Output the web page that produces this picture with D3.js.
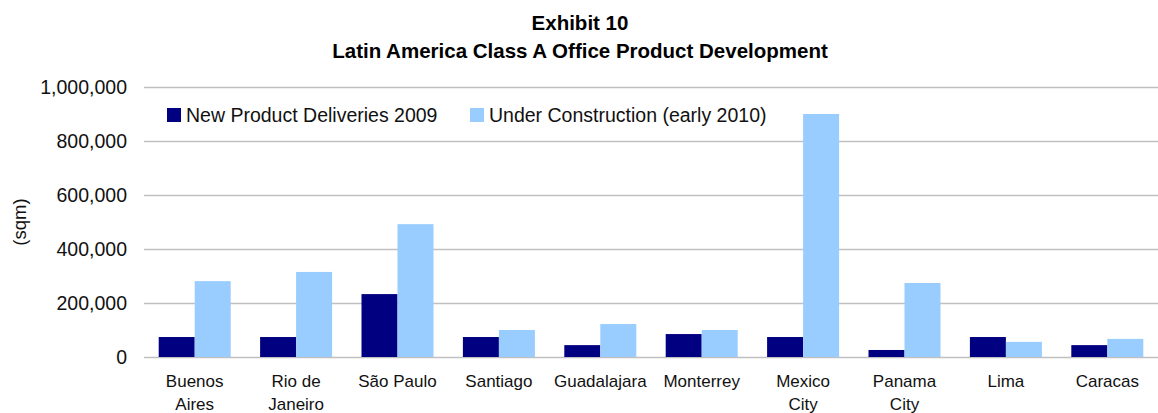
<!DOCTYPE html>
<html>
<head>
<meta charset="utf-8">
<script src="https://cdn.jsdelivr.net/npm/d3@7/dist/d3.min.js"></script>
<style>
  body { margin: 0; background: #fff; }
  svg { display: block; font-family: "Liberation Sans", Arial, sans-serif; }
</style>
</head>
<body>
<svg id="chart" width="1158" height="413"></svg>
<script>
// données (sqm)
const cities = [["Buenos", "Aires"], ["Rio de", "Janeiro"], ["São Paulo"], ["Santiago"], ["Guadalajara"],
  ["Monterrey"], ["Mexico", "City"], ["Panama", "City"], ["Lima"], ["Caracas"]];
const deliveries2009 = [74000, 74000, 233000, 74000, 44000, 85000, 74000, 26000, 74000, 44000];
const underConstruction = [281000, 315000, 492000, 100000, 122000, 100000, 900000, 274000, 56000, 67000];
const seriesNames = ["New Product Deliveries 2009", "Under Construction (early 2010)"];
const seriesColors = ["#000080", "#99CCFF"];
const yTicks = [0, 200000, 400000, 600000, 800000, 1000000];

const svg = d3.select("#chart");
const margin = { left: 144, right: 0, top: 87, bottom: 56 };
const width = 1158 - margin.left - margin.right;
const height = 413 - margin.top - margin.bottom;

const g = svg.append("g").attr("transform", `translate(${margin.left},${margin.top})`);

const x = d3.scaleBand().domain(d3.range(cities.length)).range([0, width]).paddingInner(0.29).paddingOuter(0.145);
const xSub = d3.scaleBand().domain([0, 1]).range([0, x.bandwidth()]);
const y = d3.scaleLinear().domain([0, 1000000]).range([height, 0]);

// titre
const title = svg.append("text").attr("text-anchor", "middle").attr("font-weight", "bold").attr("font-size", 20.5).attr("fill", "#000");
title.append("tspan").attr("x", 580).attr("y", 30).text("Exhibit 10");
title.append("tspan").attr("x", 580).attr("y", 58).text("Latin America Class A Office Product Development");

// grille
g.selectAll(".grid").data(yTicks).enter().append("line")
  .attr("x1", 0).attr("x2", width)
  .attr("y1", d => Math.round(y(d)) + 0.5).attr("y2", d => Math.round(y(d)) + 0.5)
  .attr("stroke", "#c0c0c0").attr("stroke-width", 1.6);

// axe Y
const fmt = d3.format(",");
g.append("g")
  .call(d3.axisLeft(y).tickValues(yTicks).tickFormat(fmt).tickSize(0).tickPadding(17))
  .call(a => a.select(".domain").remove())
  .selectAll("text").attr("font-size", 19.5).attr("fill", "#111").attr("font-family", "Liberation Sans, Arial, sans-serif");

svg.append("text")
  .attr("transform", `translate(26,${margin.top + height / 2}) rotate(-90)`)
  .attr("text-anchor", "middle").attr("font-size", 18.5).attr("fill", "#111").text("(sqm)");

// barres
const series = [deliveries2009, underConstruction];
series.forEach((vals, s) => {
  g.selectAll(".bar" + s).data(vals).enter().append("rect")
    .attr("x", (d, i) => x(i) + xSub(s))
    .attr("y", d => y(d))
    .attr("width", xSub.bandwidth())
    .attr("height", d => height - y(d))
    .attr("fill", seriesColors[s]);
});

// étiquettes X
const labels = g.selectAll(".xl").data(cities).enter().append("text")
  .attr("text-anchor", "middle").attr("font-size", 17).attr("fill", "#111")
  .attr("transform", (d, i) => `translate(${x(i) + x.bandwidth() / 2},${height + 30})`);
labels.selectAll("tspan").data(d => d).enter().append("tspan")
  .attr("x", 0).attr("y", (d, j) => j * 23).text(d => d);

// légende
const legend = svg.append("g").attr("transform", "translate(167,108)");
const legendX = [0, 303];
seriesNames.forEach((name, s) => {
  legend.append("rect").attr("x", legendX[s]).attr("y", 0).attr("width", 14).attr("height", 14).attr("fill", seriesColors[s]);
  legend.append("text").attr("x", legendX[s] + 19).attr("y", 14).attr("font-size", 19.5).attr("fill", "#111").text(name);
});
</script>
</body>
</html>
